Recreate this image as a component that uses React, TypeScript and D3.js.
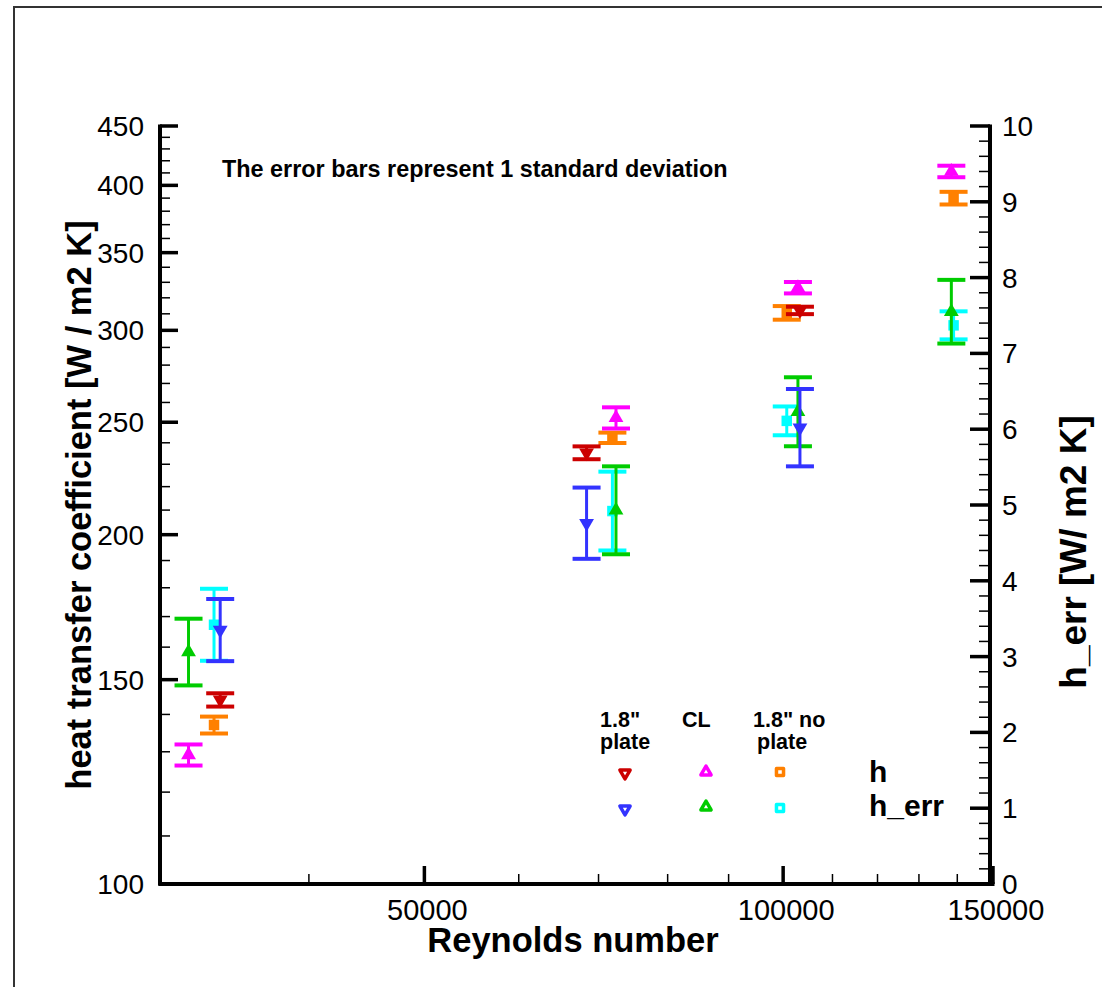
import React, { useEffect, useRef } from 'react';
import * as d3 from 'd3';

// Reynolds numbers per configuration
const rePlate = [33700, 68400, 103300];
const reCL = [31700, 72400, 102900, 138400];
const reNoPlate = [33300, 71900, 100700, 139000];

// heat transfer coefficient h [W/m2 K] and 1 std dev
const hPlate = [144.1, 235.3, 312.1];
const hPlateSd = [1.9, 3.0, 2.3];
const hCL = [129.2, 252.2, 326.5, 411.2];
const hCLSd = [2.7, 5.3, 3.7, 4.7];
const hNoPlate = [137.1, 242.4, 310.6, 390.0];
const hNoPlateSd = [2.3, 2.5, 4.2, 4.9];

// h_err [W/m2 K] (right axis) and 1 std dev
const errPlate = [3.35, 4.76, 6.02];
const errPlateSd = [0.41, 0.47, 0.51];
const errCL = [3.06, 4.93, 6.23, 7.55];
const errCLSd = [0.44, 0.58, 0.455, 0.42];
const errNoPlate = [3.42, 4.92, 6.11, 7.37];
const errNoPlateSd = [0.475, 0.52, 0.19, 0.185];

const leftMajor = [100, 150, 200, 250, 300, 350, 400, 450];
const rightMajor = [0, 1, 2, 3, 4, 5, 6, 7, 8, 9, 10];
const bottomMajor = [50000, 100000, 150000];
const bottomMinor = [40000, 60000, 70000, 80000, 90000, 110000, 120000, 130000, 140000];

const FONT = '"Liberation Sans", Arial, Helvetica, sans-serif';

export default function App() {
  const ref = useRef<SVGSVGElement>(null);

  useEffect(() => {
    const svg = d3.select(ref.current);
    svg.selectAll('*').remove();

    const left = 160, right = 990, top = 126, bottom = 884;

    const x = d3.scaleLog().domain([30000, 150000]).range([left, 993]);
    const yH = d3.scaleLog().domain([100, 450]).range([bottom, top]);
    const yErr = d3.scaleLinear().domain([0, 10]).range([bottom, top]);

    // outer frame
    svg.append('rect')
      .attr('x', 14).attr('y', 7)
      .attr('width', 1110).attr('height', 1010)
      .attr('fill', '#fff')
      .attr('stroke', '#333')
      .attr('stroke-width', 2);

    const g = svg.append('g');

    // ---- axes ----
    const axisLine = (x1, y1, x2, y2, w) => g.append('line')
      .attr('x1', x1).attr('y1', y1).attr('x2', x2).attr('y2', y2)
      .attr('stroke', '#000').attr('stroke-width', w);

    // left axis (log)
    const leftMinor = d3.range(110, 450, 10).filter(v => v % 50 !== 0);
    leftMinor.forEach(v => axisLine(left, yH(v), left + 10, yH(v), 1.5));
    leftMajor.forEach(v => axisLine(left, yH(v), left + 18, yH(v), 3.5));
    g.selectAll('.ltick').data(leftMajor).enter().append('text')
      .attr('x', left - 16).attr('y', d => yH(d))
      .attr('dy', '0.36em')
      .attr('text-anchor', 'end')
      .attr('font-family', FONT).attr('font-size', 28)
      .text(d => d);

    // right axis (linear)
    const rightMinor = d3.range(0, 50).map(i => i * 0.2).filter((v, i) => i % 5 !== 0);
    rightMinor.forEach(v => axisLine(right - 11, yErr(v), right, yErr(v), 1.5));
    rightMajor.forEach(v => axisLine(right - 20, yErr(v), right, yErr(v), 3.5));
    g.selectAll('.rtick').data(rightMajor).enter().append('text')
      .attr('x', right + 12).attr('y', d => yErr(d))
      .attr('dy', '0.36em')
      .attr('font-family', FONT).attr('font-size', 28)
      .text(d => d);

    // bottom axis (log)
    bottomMinor.forEach(v => axisLine(x(v), bottom, x(v), bottom - 10, 1.5));
    bottomMajor.forEach(v => axisLine(x(v), bottom, x(v), bottom - 18, 3.5));
    g.selectAll('.btick').data(bottomMajor).enter().append('text')
      .attr('x', d => x(d) + 3).attr('y', bottom + 36)
      .attr('text-anchor', 'middle')
      .attr('font-family', FONT).attr('font-size', 29)
      .text(d => d);

    axisLine(left, top - 1.5, left, bottom + 1.5, 4);
    axisLine(right, top - 1.5, right, bottom + 1.5, 4);
    axisLine(left - 1.5, bottom, x(150000) + 1.5, bottom, 4);

    // titles
    g.append('text')
      .attr('x', 573).attr('y', 952)
      .attr('text-anchor', 'middle')
      .attr('font-family', FONT).attr('font-size', 34.5).attr('font-weight', 'bold')
      .text('Reynolds number');
    g.append('text')
      .attr('transform', 'translate(91,505) rotate(-90)')
      .attr('text-anchor', 'middle')
      .attr('font-family', FONT).attr('font-size', 34.5).attr('font-weight', 'bold')
      .text('heat transfer coefficient [W / m2 K]');
    g.append('text')
      .attr('transform', 'translate(1086,552) rotate(-90)')
      .attr('text-anchor', 'middle')
      .attr('font-family', FONT).attr('font-size', 37).attr('font-weight', 'bold')
      .text('h_err [W/ m2 K]');
    g.append('text')
      .attr('x', 222).attr('y', 177)
      .attr('font-family', FONT).attr('font-size', 23.4).attr('font-weight', 'bold')
      .text('The error bars represent 1 standard deviation');

    // ---- data ----
    const triUp = d3.symbol().type(d3.symbolTriangle).size(95)();
    const square = d3.symbol().type(d3.symbolSquare).size(110)();

    const series = [
      { re: reNoPlate, v: errNoPlate, sd: errNoPlateSd, y: yErr, color: '#00ffff', shape: 'square' },
      { re: reCL, v: errCL, sd: errCLSd, y: yErr, color: '#00cc00', shape: 'up' },
      { re: rePlate, v: errPlate, sd: errPlateSd, y: yErr, color: '#3333ff', shape: 'down' },
      { re: reNoPlate, v: hNoPlate, sd: hNoPlateSd, y: yH, color: '#ff8000', shape: 'square' },
      { re: reCL, v: hCL, sd: hCLSd, y: yH, color: '#ff00ff', shape: 'up' },
      { re: rePlate, v: hPlate, sd: hPlateSd, y: yH, color: '#cc0000', shape: 'down' },
    ];

    const shapePath = s => (s === 'square' ? square : triUp);
    const shapeRot = s => (s === 'down' ? ' rotate(180)' : '');

    series.forEach(s => {
      const pts = s.re.map((r, i) => ({ r, v: s.v[i], sd: s.sd[i] }));
      const sg = g.append('g');
      pts.forEach(p => {
        const cx = x(p.r);
        const y1 = s.y(p.v + p.sd);
        const y2 = s.y(p.v - p.sd);
        sg.append('line').attr('x1', cx).attr('x2', cx).attr('y1', y1).attr('y2', y2)
          .attr('stroke', s.color).attr('stroke-width', 3);
        [y1, y2].forEach(yy => sg.append('line')
          .attr('x1', cx - 14).attr('x2', cx + 14).attr('y1', yy).attr('y2', yy)
          .attr('stroke', s.color).attr('stroke-width', 4));
        sg.append('path')
          .attr('d', shapePath(s.shape))
          .attr('transform', `translate(${cx},${s.y(p.v)})${shapeRot(s.shape)}`)
          .attr('fill', s.color);
      });
    });

    // ---- legend ----
    const lg = g.append('g').attr('font-family', FONT).attr('font-weight', 'bold');
    lg.append('text').attr('x', 600).attr('y', 727).attr('font-size', 21.5).text('1.8"');
    lg.append('text').attr('x', 600).attr('y', 749).attr('font-size', 21.5).text('plate');
    lg.append('text').attr('x', 682).attr('y', 727).attr('font-size', 21.5).text('CL');
    lg.append('text').attr('x', 753).attr('y', 727).attr('font-size', 21.5).text('1.8" no');
    lg.append('text').attr('x', 757).attr('y', 749).attr('font-size', 21.5).text('plate');
    lg.append('text').attr('x', 869).attr('y', 782).attr('font-size', 30).text('h');
    lg.append('text').attr('x', 869).attr('y', 816).attr('font-size', 30).text('h_err');

    const legTri = d3.symbol().type(d3.symbolTriangle).size(45)();
    const legSq = d3.symbol().type(d3.symbolSquare).size(50)();
    const legendItems = [
      { cx: 625, cy: 773, color: '#cc0000', shape: 'down' },
      { cx: 706, cy: 772, color: '#ff00ff', shape: 'up' },
      { cx: 780, cy: 772, color: '#ff8000', shape: 'square' },
      { cx: 625, cy: 809, color: '#3333ff', shape: 'down' },
      { cx: 706, cy: 807, color: '#00cc00', shape: 'up' },
      { cx: 780, cy: 808, color: '#00ffff', shape: 'square' },
    ];
    legendItems.forEach(d => {
      lg.append('path')
        .attr('d', d.shape === 'square' ? legSq : legTri)
        .attr('transform', `translate(${d.cx},${d.cy})${shapeRot(d.shape)}`)
        .attr('fill', '#fff')
        .attr('stroke', d.color)
        .attr('stroke-width', 3.5)
        .attr('stroke-linejoin', 'round');
    });
  }, []);

  return (
    <svg
      ref={ref}
      width={1102}
      height={987}
      style={{ position: 'absolute', left: 0, top: 0, background: '#fff' }}
    />
  );
}
